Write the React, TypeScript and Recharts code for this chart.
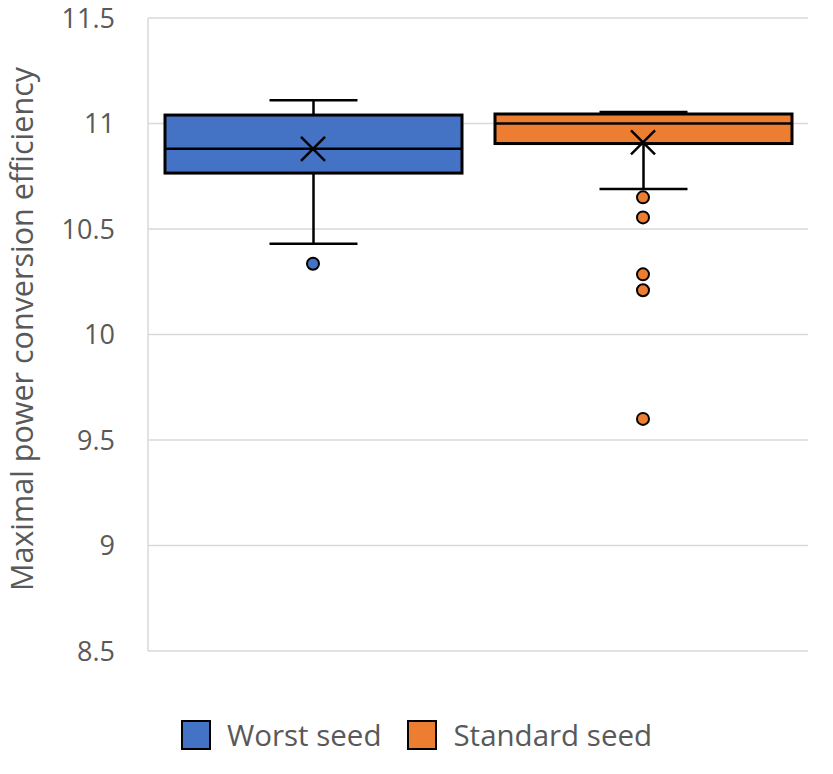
import React from 'react';
import { ComposedChart, Bar, Scatter, XAxis, YAxis, CartesianGrid } from 'recharts';

const categories = ['Worst seed', 'Standard seed'];
const whiskerLow = [10.43, 10.69];
const quartile1 = [10.765, 10.905];
const medians = [10.88, 11.0];
const quartile3 = [11.04, 11.045];
const whiskerHigh = [11.11, 11.055];
const means = [10.88, 10.91];
const outliers = [[10.335], [10.65, 10.555, 10.285, 10.21, 9.6]];
const colors = ['#4472C4', '#ED7D31'];
const yTicks = [8.5, 9, 9.5, 10, 10.5, 11, 11.5];

const boxData = categories.map((name, i) => ({
  name,
  range: [whiskerLow[i], whiskerHigh[i]],
  q1: quartile1[i],
  median: medians[i],
  q3: quartile3[i],
  fill: colors[i],
}));

const meanData = categories.map((name, i) => ({ name, value: means[i] }));

const outlierData = categories.map((name, i) =>
  outliers[i].map((value) => ({ name, value, fill: colors[i] }))
);

const TEXT = '#595959';
const FONT = '"Open Sans", "Noto Sans", sans-serif';

// whole box plot drawn from the range bar geometry (bar spans low..high whisker)
const BoxShape = (props: any) => {
  const { x, y, width, height, payload } = props;
  const [lo, hi] = payload.range;
  const py = (v: number) => y + ((hi - v) / (hi - lo)) * height;
  const cx = x + width / 2;
  const cap = 44;
  const yQ1 = py(payload.q1);
  const yQ3 = py(payload.q3);
  const yMed = py(payload.median);
  return (
    <g>
      <line x1={cx} x2={cx} y1={y} y2={yQ3} stroke="#000" strokeWidth={2.5} />
      <line x1={cx} x2={cx} y1={yQ1} y2={y + height} stroke="#000" strokeWidth={2.5} />
      <line x1={cx - cap} x2={cx + cap} y1={y} y2={y} stroke="#000" strokeWidth={2.5} />
      <line x1={cx - cap} x2={cx + cap} y1={y + height} y2={y + height} stroke="#000" strokeWidth={2.5} />
      <rect x={x} y={yQ3} width={width} height={yQ1 - yQ3} fill={payload.fill} stroke="#000" strokeWidth={3} />
      <line x1={x} x2={x + width} y1={yMed} y2={yMed} stroke="#000" strokeWidth={2.5} />
    </g>
  );
};

const MeanShape = (props: any) => {
  const { cx, cy } = props;
  const s = 12;
  return (
    <g>
      <line x1={cx - s} x2={cx + s} y1={cy - s} y2={cy + s} stroke="#000" strokeWidth={2.5} />
      <line x1={cx - s} x2={cx + s} y1={cy + s} y2={cy - s} stroke="#000" strokeWidth={2.5} />
    </g>
  );
};

const OutlierShape = (props: any) => {
  const { cx, cy, payload } = props;
  return <circle cx={cx} cy={cy} r={6} fill={payload.fill} stroke="#000" strokeWidth={2} />;
};

const YLabel = () => (
  <text
    x={21}
    y={329}
    transform="rotate(-90, 21, 329)"
    textAnchor="middle"
    dominantBaseline="central"
    fill={TEXT}
    fontSize={30.5}
    fontFamily={FONT}
  >
    Maximal power conversion efficiency
  </text>
);

export default function App() {
  return (
    <div style={{ position: 'absolute', left: 0, top: 0, width: 833, height: 774, background: '#fff' }}>
      <ComposedChart
        width={833}
        height={774}
        data={boxData}
        margin={{ top: 18, right: 25, bottom: 123, left: 0 }}
      >
        <CartesianGrid horizontal vertical={false} stroke="#d9d9d9" strokeWidth={1.5} />
        <XAxis dataKey="name" type="category" allowDuplicatedCategory={false} hide />
        <YAxis
          type="number"
          domain={[8.5, 11.5]}
          ticks={yTicks}
          width={148}
          axisLine={{ stroke: '#d9d9d9', strokeWidth: 1.5 }}
          tickLine={false}
          tickMargin={27}
          tick={{ fill: TEXT, fontSize: 27, fontFamily: FONT }}
          label={<YLabel />}
        />
        <Bar dataKey="range" barSize={297} shape={<BoxShape />} isAnimationActive={false} />
        <Scatter data={meanData} dataKey="value" shape={<MeanShape />} isAnimationActive={false} />
        {outlierData.map((d, i) => (
          <Scatter key={i} data={d} dataKey="value" shape={<OutlierShape />} isAnimationActive={false} />
        ))}
      </ComposedChart>
      <div
        style={{
          position: 'absolute',
          top: 714,
          left: 0,
          width: 833,
          display: 'flex',
          justifyContent: 'center',
          alignItems: 'center',
          fontFamily: FONT,
          fontSize: 29.5,
          color: TEXT,
        }}
      >
        {categories.map((c, i) => (
          <div key={c} style={{ display: 'flex', alignItems: 'center', marginRight: i === 0 ? 26 : 0 }}>
            <span
              style={{
                width: 26,
                height: 26,
                background: colors[i],
                border: '2px solid #000',
                marginRight: 16,
                display: 'inline-block',
              }}
            />
            <span>{c}</span>
          </div>
        ))}
      </div>
    </div>
  );
}
